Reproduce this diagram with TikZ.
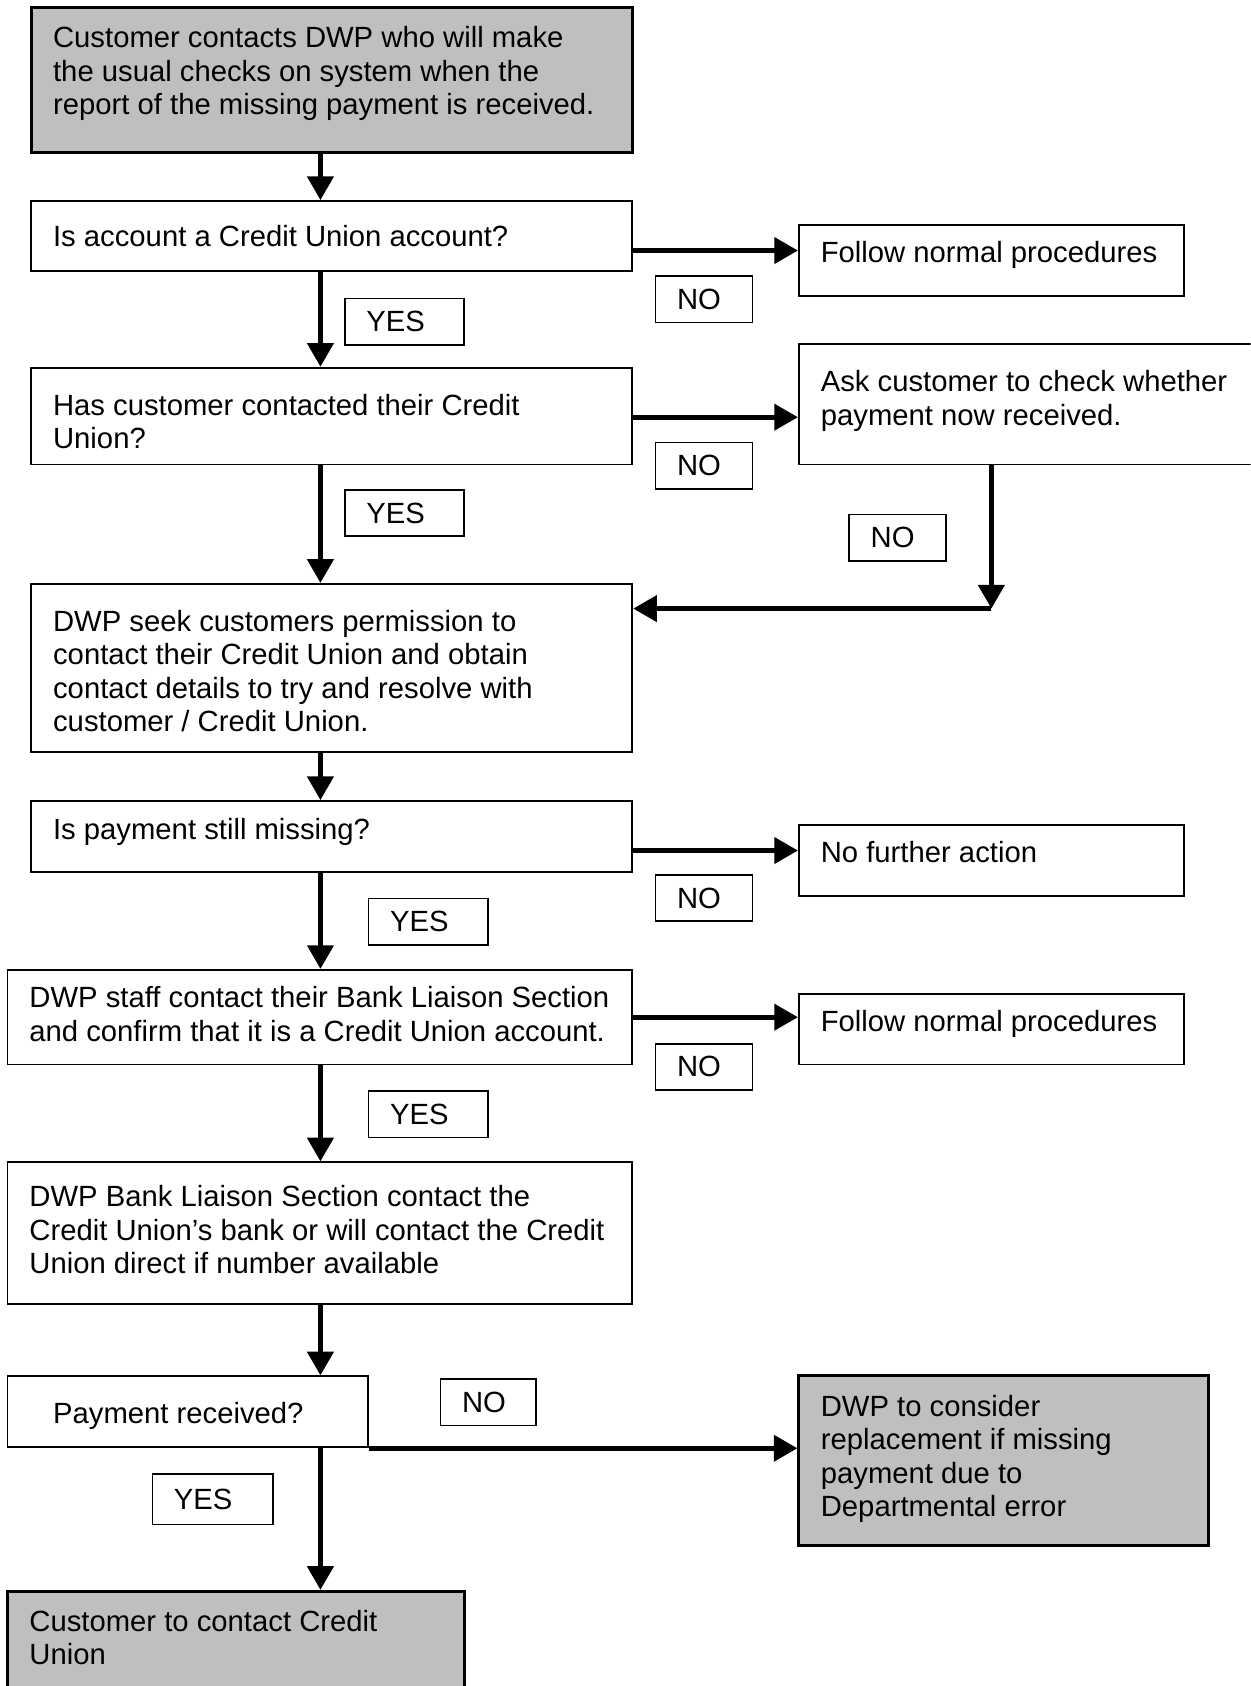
\documentclass[tikz,border=0pt]{standalone}
\usepackage{fontspec}
\setmainfont{Liberation Sans}
\usetikzlibrary{arrows.meta,fit}
\colorlet{penColor}{black}
\colorlet{boxFill}{black!25}
\tikzset{>={Triangle[length=11pt,width=12pt]}}
\tikzset{
  box/.style={draw=penColor, line width=0.9pt, inner sep=0pt},
  endbox/.style={box, fill=boxFill, line width=1.4pt},
  txt/.style={anchor=north west, inner sep=0pt, align=left, font=\fontsize{13.6}{15.5}\selectfont},
  answer/.style={draw=penColor, line width=0.7pt, anchor=north west, inner xsep=10pt, inner ysep=0pt,
    minimum height=21.5pt, text width=#1, align=left, font=\fontsize{13.6}{15.5}\selectfont},
  flow/.style={->, penColor, line width=2.2pt},
}

\begin{document}
\begin{tikzpicture}[x=0.5pt,y=-0.5pt]
				\clip (0,0) rectangle (1163,1568);
				\fill[white] (0,0) rectangle (1163,1568);
				\coordinate (col) at (298,0);
				\coordinate (turn) at (922,566);

				% boxes
				\node[endbox, fit={(29,7) (588,142)}] (start) {};
				\node[box, fit={(29,187) (588,252)}] (acct) {};
				\node[box, fit={(743,209) (1101,275)}] (follow1) {};
				\node[box, fit={(29,342) (588,432)}] (contacted) {};
				\node[box, fit={(743,320) (1180,432)}] (ask) {};
				\node[box, fit={(29,543) (588,699)}] (seek) {};
				\node[box, fit={(29,745) (588,811)}] (missing) {};
				\node[box, fit={(743,767) (1101,833)}] (nofurther) {};
				\node[box, fit={(7,902) (588,990)}] (liaison) {};
				\node[box, fit={(743,924) (1101,990)}] (follow2) {};
				\node[box, fit={(7,1081) (588,1213)}] (bank) {};
				\node[box, fit={(7,1280) (342,1346)}] (received) {};
				\node[endbox, fit={(743,1279) (1124,1437)}] (consider) {};
				\node[endbox, fit={(7,1480) (432,1590)}] (final) {};

				% texts
				\node[txt] (startT) at (49,24.3) {Customer contacts DWP who will make\\the usual checks on system when the\\report of the missing payment is received.};
				\node[txt] (acctT) at (49,209.3) {Is account a Credit Union account?};
				\node[txt] (follow1T) at (763,224.3) {Follow normal procedures};
				\node[txt] (contactedT) at (49,366.3) {Has customer contacted their Credit\\Union?};
				\node[txt] (askT) at (763,344.3) {Ask customer to check whether\\payment now received.};
				\node[txt] (seekT) at (49,567.3) {DWP seek customers permission to\\contact their Credit Union and obtain\\contact details to try and resolve with\\customer / Credit Union.};
				\node[txt] (missingT) at (49,760.3) {Is payment still missing?};
				\node[txt] (nofurtherT) at (763,782.3) {No further action};
				\node[txt] (liaisonT) at (27,917.3) {DWP staff contact their Bank Liaison Section\\and confirm that it is a Credit Union account.};
				\node[txt] (follow2T) at (763,939.3) {Follow normal procedures};
				\node[txt] (bankT) at (27,1102.3) {DWP Bank Liaison Section contact the\\Credit Union’s bank or will contact the Credit\\Union direct if number available};
				\node[txt] (receivedT) at (49,1303.3) {Payment received?};
				\node[txt] (considerT) at (763,1297.3) {DWP to consider\\replacement if missing\\payment due to\\Departmental error};
				\node[txt] (finalT) at (27,1497.3) {Customer to contact Credit\\Union};

				% answers
				\node[answer=25pt] (no1) at (609,256) {NO};
				\node[answer=35.5pt] (yes1) at (320,277) {YES};
				\node[answer=25pt] (no2) at (609,411) {NO};
				\node[answer=35.5pt] (yes2) at (320,455) {YES};
				\node[answer=25pt] (no3) at (789,478) {NO};
				\node[answer=25pt] (no4) at (609,813) {NO};
				\node[answer=35.5pt] (yes3) at (342,835) {YES};
				\node[answer=25pt] (no5) at (609,970) {NO};
				\node[answer=35.5pt] (yes4) at (342,1014) {YES};
				\node[answer=24.5pt] (no6) at (409,1282) {NO};
				\node[answer=36pt, minimum height=23.5pt] (yes5) at (141,1370) {YES};

				% connectors
				\draw[flow] (start.south -| col) -- (acct.north -| col);
				\draw[flow] (acct.east |- 0,233) -- (follow1.west |- 0,233);
				\draw[flow] (acct.south -| col) -- (contacted.north -| col);
				\draw[flow] (contacted.east |- 0,388) -- (ask.west |- 0,388);
				\draw[flow] (contacted.south -| col) -- (seek.north -| col);
				\draw[flow] (ask.south -| turn) -- (turn);
				\draw[flow] (turn) -- (seek.east |- turn);
				\draw[flow] (seek.south -| col) -- (missing.north -| col);
				\draw[flow] (missing.east |- 0,791) -- (nofurther.west |- 0,791);
				\draw[flow] (missing.south -| col) -- (liaison.north -| col);
				\draw[flow] (liaison.east |- 0,946) -- (follow2.west |- 0,946);
				\draw[flow] (liaison.south -| col) -- (bank.north -| col);
				\draw[flow] (bank.south -| col) -- (received.north -| col);
				\draw[flow] (received.south east) -- (consider.west |- received.south east);
				\draw[flow] (received.south -| col) -- (final.north -| col);
\end{tikzpicture}
\end{document}
